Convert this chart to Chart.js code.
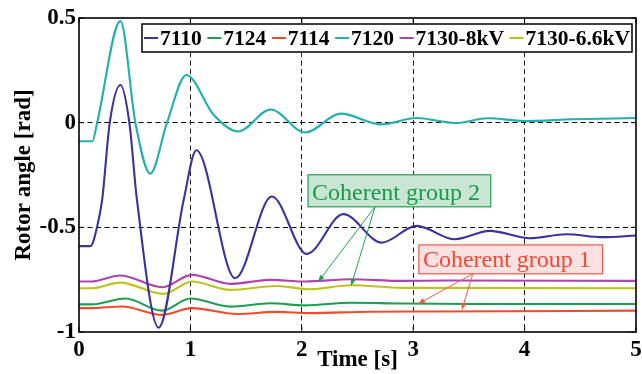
<!DOCTYPE html>
<html>
<head>
<meta charset="utf-8">
<title>Rotor angle</title>
<script src="https://cdn.jsdelivr.net/npm/chart.js@4.4.1/dist/chart.umd.min.js"></script>
<style>
  html, body { margin: 0; padding: 0; background: #fff; }
</style>
</head>
<body>
<canvas id="rotorChart" width="642" height="374"></canvas>
<script>
// Rotor angles [rad] of each unit, read at the turning points of the swing
const t7110 = [0, 0.103, 0.163, 0.208, 0.276, 0.372, 0.452, 0.52, 0.715, 0.94, 1.053, 1.402, 1.731, 2.045, 2.373, 2.717, 3.03, 3.374, 3.687, 4.046, 4.374, 4.70, 5];
const v7110 = [-0.59, -0.59, -0.496, -0.368, 0, 0.18, 0, -0.368, -0.979, -0.368, -0.132, -0.743, -0.353, -0.627, -0.437, -0.573, -0.493, -0.557, -0.517, -0.552, -0.533, -0.547, -0.539];

const t7124 = [0, 0.11, 0.416, 0.745, 1.0, 1.357, 1.72, 2.03, 2.44, 2.9, 3.5, 5];
const v7124 = [-0.868, -0.868, -0.84, -0.898, -0.84, -0.879, -0.863, -0.873, -0.86, -0.864, -0.866, -0.866];

const t7114 = [0, 0.11, 0.387, 0.745, 1.014, 1.417, 1.776, 2.07, 2.61, 3.2, 5];
const v7114 = [-0.886, -0.886, -0.878, -0.918, -0.886, -0.914, -0.904, -0.91, -0.903, -0.902, -0.898];

const t7120 = [0, 0.12, 0.163, 0.372, 0.506, 0.64, 0.79, 0.963, 1.208, 1.43, 1.72, 2.03, 2.35, 2.71, 3.03, 3.38, 3.67, 4.0, 4.44, 5];
const v7120 = [-0.089, -0.089, 0, 0.485, 0, -0.244, 0, 0.228, 0.038, -0.042, 0.063, -0.047, 0.043, -0.008, 0.022, -0.002, 0.021, 0.008, 0.016, 0.022];

const t7130a = [0, 0.11, 0.37, 0.745, 1.014, 1.357, 1.72, 2.03, 2.44, 2.9, 3.3, 5];
const v7130a = [-0.759, -0.759, -0.73, -0.786, -0.727, -0.77, -0.751, -0.759, -0.748, -0.756, -0.754, -0.756];

const t7130b = [0, 0.11, 0.37, 0.76, 1.014, 1.357, 1.776, 2.07, 2.44, 2.9, 5];
const v7130b = [-0.791, -0.791, -0.764, -0.818, -0.759, -0.799, -0.78, -0.796, -0.777, -0.789, -0.791];

const seriesNames = ['7110', '7124', '7114', '7120', '7130-8kV', '7130-6.6kV'];
const seriesColors = ['#3a339c', '#1e9e50', '#f04c2c', '#22b0ae', '#b044ae', '#bcc21e'];

const xTicks = [0, 1, 2, 3, 4, 5];
const xTickLabels = ['0', '1', '2', '3', '4', '5'];
const yTicks = [-1, -0.5, 0, 0.5];
const yTickLabels = ['-1', '-0.5', '0', '0.5'];

// callout boxes [t0, v0, t1, v1], arrow tails and arrow tips, all in axis units
const groupLabels = ['Coherent group 2', 'Coherent group 1'];
const groupBoxes = [[2.056, -0.249, 3.696, -0.402], [3.051, -0.584, 4.70, -0.722]];
const groupTails = [[2.657, -0.402], [3.535, -0.722]];
const groupTips = [[[2.146, -0.761], [2.442, -0.78]], [[3.042, -0.866], [3.436, -0.895]]];
const groupStyles = [
  { text: '#1a9a4c', border: '#22a055', fill: '#c8e6d3' },
  { text: '#f04a36', border: '#f05a48', fill: '#fbe1e1' }
];

const serif = '"Liberation Serif", "Times New Roman", serif';

function points(ts, vs) {
  return ts.map((t, i) => ({ x: t, y: vs[i] }));
}

const seriesData = [
  points(t7110, v7110), points(t7124, v7124), points(t7114, v7114),
  points(t7120, v7120), points(t7130a, v7130a), points(t7130b, v7130b)
];

function drawArrow(ctx, x0, y0, x1, y1, color) {
  const ang = Math.atan2(y1 - y0, x1 - x0);
  const len = 7, half = 2.6;
  ctx.strokeStyle = color;
  ctx.fillStyle = color;
  ctx.lineWidth = 1;
  ctx.beginPath();
  ctx.moveTo(x0, y0);
  ctx.lineTo(x1 - Math.cos(ang) * len * 0.8, y1 - Math.sin(ang) * len * 0.8);
  ctx.stroke();
  ctx.beginPath();
  ctx.moveTo(x1, y1);
  ctx.lineTo(x1 - Math.cos(ang) * len - Math.sin(ang) * half, y1 - Math.sin(ang) * len + Math.cos(ang) * half);
  ctx.lineTo(x1 - Math.cos(ang) * len + Math.sin(ang) * half, y1 - Math.sin(ang) * len - Math.cos(ang) * half);
  ctx.closePath();
  ctx.fill();
}

// plot frame with inward ticks, boxed legend and the two callouts
const overlay = {
  id: 'overlay',
  afterDatasetsDraw(chart) {
    const { ctx, chartArea: a, scales: { x, y } } = chart;
    ctx.save();

    ctx.strokeStyle = '#000';
    ctx.lineWidth = 1.6;
    ctx.strokeRect(a.left, a.top, a.right - a.left, a.bottom - a.top);
    ctx.lineWidth = 1;
    ctx.beginPath();
    xTicks.forEach(v => {
      const px = x.getPixelForValue(v);
      ctx.moveTo(px, a.bottom); ctx.lineTo(px, a.bottom - 5);
      ctx.moveTo(px, a.top); ctx.lineTo(px, a.top + 5);
    });
    yTicks.forEach(v => {
      const py = y.getPixelForValue(v);
      ctx.moveTo(a.left, py); ctx.lineTo(a.left + 5, py);
      ctx.moveTo(a.right, py); ctx.lineTo(a.right - 5, py);
    });
    ctx.stroke();

    // legend
    ctx.font = 'bold 21.5px ' + serif;
    const lx = a.left + 63, ly = a.top + 6, lw = 490, lh = 28;
    const mark = 14;
    const widths = chart.data.datasets.map(ds => ctx.measureText(ds.label).width);
    const used = widths.reduce((s, w) => s + w + mark + 2, 0);
    const gap = (lw - 4 - used) / (widths.length - 1);
    ctx.fillStyle = '#fff';
    ctx.fillRect(lx, ly, lw, lh);
    ctx.lineWidth = 1.5;
    ctx.strokeStyle = '#000';
    ctx.strokeRect(lx, ly, lw, lh);
    let cx = lx + 2;
    const my = ly + lh / 2;
    ctx.textBaseline = 'middle';
    ctx.textAlign = 'left';
    chart.data.datasets.forEach((ds, i) => {
      ctx.strokeStyle = ds.borderColor;
      ctx.lineWidth = 2;
      ctx.beginPath();
      ctx.moveTo(cx, my);
      ctx.lineTo(cx + mark, my);
      ctx.stroke();
      cx += mark + 2;
      ctx.fillStyle = '#000';
      ctx.fillText(ds.label, cx, my + 1);
      cx += widths[i] + gap;
    });

    // callouts
    ctx.font = '24px ' + serif;
    ctx.textBaseline = 'alphabetic';
    groupLabels.forEach((label, g) => {
      const st = groupStyles[g];
      const [t0, v0, t1, v1] = groupBoxes[g];
      const bx = x.getPixelForValue(t0), by = y.getPixelForValue(v0);
      const bw = x.getPixelForValue(t1) - bx, bh = y.getPixelForValue(v1) - by;
      ctx.fillStyle = st.fill;
      ctx.fillRect(bx, by, bw, bh);
      ctx.strokeStyle = st.border;
      ctx.lineWidth = 1.2;
      ctx.strokeRect(bx, by, bw, bh);
      ctx.fillStyle = st.text;
      ctx.fillText(label, bx + 4, by + bh - 7);
      const tx = x.getPixelForValue(groupTails[g][0]), ty = y.getPixelForValue(groupTails[g][1]);
      groupTips[g].forEach(([tt, tv]) => {
        drawArrow(ctx, tx, ty, x.getPixelForValue(tt), y.getPixelForValue(tv), st.border);
      });
    });

    ctx.restore();
  }
};

const tickFont = { family: serif, size: 23, weight: 'bold' };

new Chart(document.getElementById('rotorChart'), {
  type: 'line',
  data: {
    datasets: seriesNames.map((name, i) => ({
      label: name,
      data: seriesData[i],
      borderColor: seriesColors[i],
      backgroundColor: seriesColors[i],
      borderWidth: 2.1,
      pointRadius: 0,
      fill: false,
      cubicInterpolationMode: 'monotone'
    }))
  },
  options: {
    responsive: false,
    animation: false,
    layout: { padding: { top: 18, right: 0, bottom: 0, left: 0 } },
    plugins: { legend: { display: false }, tooltip: { enabled: false } },
    scales: {
      x: {
        type: 'linear',
        min: 0,
        max: 5,
        // fixed axis band; the last label is allowed to touch the canvas edge
        afterFit: s => { s.height = 42; s.paddingRight = 6; s.paddingLeft = 0; },
        afterBuildTicks: s => { s.ticks = xTicks.map(v => ({ value: v })); },
        ticks: {
          color: '#000',
          font: tickFont,
          padding: 4,
          maxRotation: 0,
          callback: v => xTickLabels[xTicks.indexOf(v)]
        },
        grid: {
          drawTicks: false,
          lineWidth: 1,
          color: c => (c.tick && (c.tick.value === 0 || c.tick.value === 5)) ? 'rgba(0,0,0,0)' : '#222'
        },
        border: { display: false, dash: [5, 3.5] },
        title: {
          display: true,
          text: 'Time [s]',
          color: '#000',
          font: { family: serif, size: 23, weight: 'bold' },
          padding: { top: 0, bottom: 0 }
        }
      },
      y: {
        type: 'linear',
        min: -1,
        max: 0.5,
        afterFit: s => { s.width = 79; },
        afterBuildTicks: s => { s.ticks = yTicks.map(v => ({ value: v })); },
        ticks: {
          color: '#000',
          font: tickFont,
          padding: 3,
          callback: v => yTickLabels[yTicks.indexOf(v)]
        },
        grid: {
          drawTicks: false,
          lineWidth: 1,
          color: c => (c.tick && (c.tick.value === 0.5 || c.tick.value === -1)) ? 'rgba(0,0,0,0)' : '#000'
        },
        border: { display: false, dash: [5, 3.5] },
        title: {
          display: true,
          text: 'Rotor angle [rad]',
          color: '#000',
          font: { family: serif, size: 23, weight: 'bold' },
          padding: { top: 10, bottom: 0 }
        }
      }
    }
  },
  plugins: [overlay]
});
</script>
</body>
</html>
